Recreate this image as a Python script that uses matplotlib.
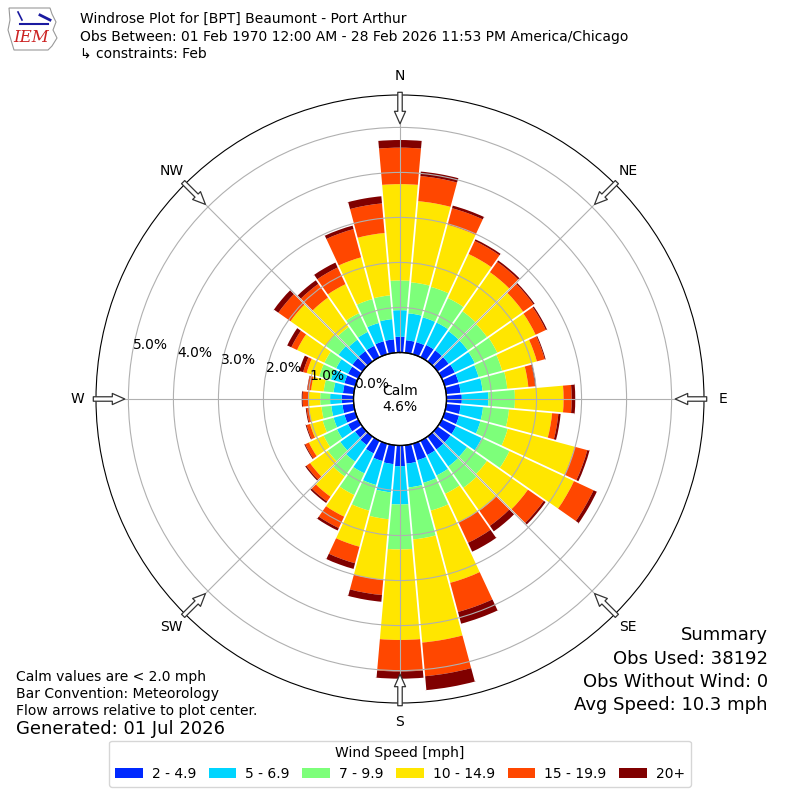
import matplotlib
matplotlib.use("Agg")
import matplotlib.pyplot as plt
import numpy as np
from matplotlib.patches import Polygon

# Wind directions (deg, meteorological convention) and speed bins
DIRECTIONS = list(range(0, 360, 10))
SPEED_LABELS = ["2 - 4.9", "5 - 6.9", "7 - 9.9", "10 - 14.9", "15 - 19.9", "20+"]

# Cumulative frequency (%) at the top of each speed bin, per direction
TOP_2_5 = [0.35, 0.28, 0.28, 0.30, 0.30, 0.30, 0.32, 0.32, 0.32, 0.34, 0.32, 0.33,
           0.35, 0.35, 0.35, 0.35, 0.38, 0.41, 0.46, 0.42, 0.40, 0.31, 0.23, 0.20,
           0.25, 0.25, 0.25, 0.26, 0.24, 0.25, 0.25, 0.27, 0.28, 0.28, 0.30, 0.30]
TOP_5_7 = [0.94, 0.88, 0.85, 0.85, 0.82, 0.82, 0.81, 0.78, 0.81, 0.93, 0.82, 0.82,
           0.98, 0.80, 0.81, 0.85, 0.90, 0.94, 1.31, 1.05, 0.95, 0.80, 0.68, 0.60,
           0.52, 0.50, 0.50, 0.52, 0.45, 0.56, 0.54, 0.65, 0.59, 0.62, 0.72, 0.75]
TOP_7_10 = [1.60, 1.57, 1.55, 1.45, 1.36, 1.34, 1.36, 1.32, 1.36, 1.52, 1.40, 1.45,
            1.66, 1.34, 1.39, 1.30, 1.54, 2.10, 2.31, 1.65, 1.54, 1.33, 1.08, 0.94,
            0.85, 0.75, 0.72, 0.74, 0.67, 0.83, 0.83, 0.99, 0.93, 1.08, 1.27, 1.28]
TOP_10_15 = [3.74, 3.38, 2.98, 2.53, 2.42, 2.32, 2.30, 2.12, 1.83, 2.60, 2.36, 2.99,
             3.24, 2.45, 2.01, 2.00, 3.20, 4.40, 4.32, 3.00, 2.37, 1.86, 1.63, 1.42,
             1.21, 1.04, 1.00, 1.00, 0.95, 1.12, 1.50, 1.95, 1.73, 1.79, 2.23, 2.67]
TOP_15_20 = [4.55, 3.94, 3.36, 2.85, 2.70, 2.60, 2.55, 2.30, 1.98, 2.78, 2.50, 3.28,
             3.72, 2.88, 2.42, 2.50, 3.87, 5.15, 5.02, 3.34, 2.75, 2.14, 1.76, 1.52,
             1.30, 1.12, 1.05, 1.13, 1.03, 1.20, 1.64, 2.28, 2.10, 2.20, 2.88, 3.33]
TOP_20P = [4.72, 4.04, 3.42, 2.89, 2.74, 2.63, 2.58, 2.32, 2.00, 2.86, 2.55, 3.33,
           3.80, 2.93, 2.57, 2.72, 4.14, 5.46, 5.18, 3.49, 2.88, 2.20, 1.80, 1.55,
           1.32, 1.14, 1.07, 1.15, 1.04, 1.29, 1.74, 2.40, 2.20, 2.32, 2.96, 3.49]

CALM_PCT = 4.6
COMPASS = ["N", "NE", "E", "SE", "S", "SW", "W", "NW"]
RTICKS = [0, 1, 2, 3, 4, 5]

RMAX = 5.72
RORIGIN = -1.033

fig = plt.figure(figsize=(8, 8), dpi=100)
ax = fig.add_axes([0.12, 0.12125, 0.76, 0.76], projection="polar")
ax.set_theta_zero_location("N")
ax.set_theta_direction(-1)
ax.set_rorigin(RORIGIN)
ax.set_ylim(0, RMAX)

theta = np.deg2rad(DIRECTIONS)
width = np.deg2rad(10)
colors = plt.get_cmap("jet")(np.linspace(0, 1, 7)[1:])
tops = [TOP_2_5, TOP_5_7, TOP_7_10, TOP_10_15, TOP_15_20, TOP_20P]

bottom = np.zeros(len(DIRECTIONS))
for top, color, label in zip(tops, colors, SPEED_LABELS):
    top = np.array(top)
    ax.bar(theta, top - bottom, width=width, bottom=bottom, color=color,
           edgecolor="none", label=label, zorder=1)
    bottom = top

# white gaps between neighbouring bars
total = np.array(TOP_20P)
for i in range(len(DIRECTIONS)):
    edge = theta[i] + width / 2
    reach = max(total[i], total[(i + 1) % len(DIRECTIONS)])
    ax.plot([edge, edge], [0, reach], color="white", lw=1.3, zorder=1.2,
            solid_capstyle="butt")

# calm circle
circ = np.linspace(0, 2 * np.pi, 400)
ax.plot(circ, np.zeros_like(circ), color="black", lw=1, clip_on=False, zorder=3)
ax.text(0, RORIGIN, f"Calm\n{CALM_PCT}%", ha="center", va="center", fontsize=10)

ax.set_xticks(np.deg2rad(np.arange(0, 360, 45)))
ax.set_xticklabels(COMPASS, fontsize=10)
ax.tick_params(axis="x", pad=3)
ax.set_yticks(RTICKS)
ax.set_yticklabels([f"{v:.1f}%" for v in RTICKS], fontsize=10)
ax.set_rlabel_position(280)
ax.grid(True, color="#b0b0b0", lw=0.8)

# flow arrows at the compass points
for ang in np.arange(0, 360, 45):
    t = np.deg2rad(ang)
    ax.annotate("", xy=(t, 5.08), xytext=(t, RMAX + 0.06),
                arrowprops=dict(arrowstyle="simple,head_length=0.9,head_width=0.8,tail_width=0.32",
                                fc="white", ec="#333333", lw=0.9, shrinkA=0, shrinkB=0),
                annotation_clip=False, zorder=4)

# header
fig.text(0.1, 1 - 19 / 800, "Windrose Plot for [BPT] Beaumont - Port Arthur",
         fontsize=10, va="center")
fig.text(0.1, 1 - 37 / 800,
         "Obs Between: 01 Feb 1970 12:00 AM - 28 Feb 2026 11:53 PM America/Chicago",
         fontsize=10, va="center")
fig.text(0.1, 1 - 54 / 800, "\u21b3 constraints: Feb", fontsize=10, va="center")

# IEM logo (approximation)
lax = fig.add_axes([0.0, 1 - 52 / 800, 70 / 800, 52 / 800])
lax.set_xlim(0, 70)
lax.set_ylim(52, 0)
lax.axis("off")
iowa = [(9, 8), (50, 8), (52, 14), (56, 22), (53, 30), (57, 38), (52, 46), (48, 50),
        (14, 50), (11, 40), (8, 30), (10, 20)]
lax.add_patch(Polygon(iowa, closed=True, fill=False, ec="#999999", lw=0.8))
lax.plot([20, 48], [24, 24], color="#1a1aa0", lw=1.5)
lax.plot([18, 22], [12, 20], color="#1a1aa0", lw=1.2)
lax.plot([40, 50], [15, 20], color="#1a1aa0", lw=2)
lax.text(31, 38, "IEM", color="#cc2222", fontsize=12, family="DejaVu Serif",
         style="italic", ha="center", va="center")

# footer notes
fig.text(0.02, 1 - 677 / 800, "Calm values are < 2.0 mph", fontsize=10, va="center")
fig.text(0.02, 1 - 694 / 800, "Bar Convention: Meteorology", fontsize=10, va="center")
fig.text(0.02, 1 - 711 / 800, "Flow arrows relative to plot center.", fontsize=10, va="center")
fig.text(0.02, 1 - 729 / 800, "Generated: 01 Jul 2026", fontsize=13, va="center")

summary = ["Summary", "Obs Used: 38192", "Obs Without Wind: 0", "Avg Speed: 10.3 mph"]
for i, line in enumerate(summary):
    fig.text(0.96, 1 - (635 + 23.5 * i) / 800, line, fontsize=13, ha="right", va="center")

handles, labels = ax.get_legend_handles_labels()
fig.legend(handles, labels, loc="lower center", bbox_to_anchor=(0.5, 0.008), ncol=6,
           title="Wind Speed [mph]", fontsize=10, title_fontsize=10,
           handlelength=2.0, handleheight=0.7, handletextpad=0.65, columnspacing=0.9)

fig.savefig("out.png", dpi=100)
